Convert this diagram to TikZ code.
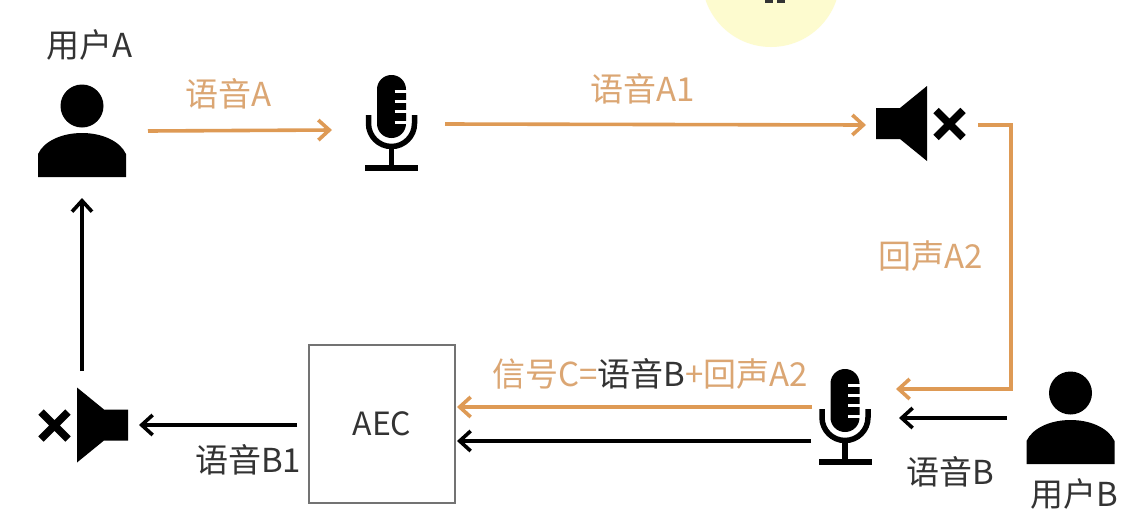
\documentclass[tikz,border=0pt]{standalone}
\usepackage{fontspec}
\setmainfont{Noto Sans CJK SC}
\usetikzlibrary{arrows.meta,calc}
\definecolor{org}{HTML}{DE9A55}
\definecolor{orgtext}{HTML}{DBA673}
\definecolor{inktext}{HTML}{333333}
\definecolor{halo}{HTML}{FDFBCF}
\tikzset{
  iconbox/.style={inner sep=0pt,outer sep=0pt,draw=none},
  flow/.style={line width=3.6pt,-{Straight Barb[length=11pt,width=20pt,line width=3.6pt]}},
  oflow/.style={flow,draw=org},
  kflow/.style={flow,draw=black},
  lbl/.style={inner sep=0pt,font=\fontsize{33}{36}\selectfont},
  olbl/.style={lbl,text=orgtext},
  klbl/.style={lbl,text=inktext},
  usericon/.pic={
    \fill[black] (0,22) circle[radius=21.5];
    \fill[black] (-44,93) -- (-44,70) .. controls (-38,57) and (-20,49) .. (0,49)
       .. controls (20,49) and (38,57) .. (44,70) -- (44,93) -- cycle;
  },
  micicon/.pic={
    \fill[black,rounded corners=14.4pt] (-14.5,0) rectangle (14.5,63);
    \foreach \yy in {16,26,36,47}{\draw[white,line width=3pt] (3,\yy) -- (16,\yy);}
    \draw[black,line width=5.5pt] (-23,40) -- (-23,48.5) arc[start angle=180,end angle=0,radius=23] -- (23,40);
    \draw[black,line width=5.5pt] (0,72) -- (0,92);
    \fill[black] (-26.5,90) rectangle (26.5,96);
  },
  speakericon/.pic={
    \fill[black] (0,-15.5) -- (24,-15.5) -- (51,-37.5) -- (51,37.5) -- (24,15.5) -- (0,15.5) -- cycle;
    \draw[black,line width=7.5pt] (60,-13) -- (87,14) (60,14) -- (87,-13);
  },
}
\begin{document}
\begin{tikzpicture}[x=1pt,y=-1pt]
\path[use as bounding box,fill=white] (0,0) rectangle (1144,528);
% top decoration, cut by the frame
\begin{scope}
  \clip (0,0) rectangle (1144,528);
  \fill[halo] (771,-22) circle[radius=69];
  \fill[inktext] (765,0) rectangle (773,3);
  \fill[inktext] (777,0) rectangle (785,3);
\end{scope}

% icons
\node[iconbox,minimum width=88pt,minimum height=93pt] (userA) at (82,130.5) {};
\node[iconbox,minimum width=53pt,minimum height=96pt] (micA) at (391.5,123) {};
\node[iconbox,minimum width=91pt,minimum height=75pt] (spkA) at (921.5,123.5) {};
\node[iconbox,minimum width=53pt,minimum height=96pt] (micB) at (845,417) {};
\node[iconbox,minimum width=88pt,minimum height=93pt] (userB) at (1070.5,417.5) {};
\node[iconbox,minimum width=91pt,minimum height=76pt] (spkB) at (82.5,425) {};
\pic at (userA.north) {usericon};
\pic at (userB.north) {usericon};
\pic at (micA.north) {micicon};
\pic at (micB.north) {micicon};
\pic at (spkA.west) {speakericon};
\pic[xscale=-1] at (spkB.east) {speakericon};

% AEC
\node[draw=black!55,line width=1.5pt,minimum width=146pt,minimum height=158pt,inner sep=0pt,
      font=\fontsize{32}{35}\selectfont,text=inktext] (aec) at (382,424) {AEC};

% connector ends
\coordinate (uAout) at (148,131);
\coordinate (mAin) at (332,130);
\coordinate (mAout) at (445,124);
\coordinate (sAin) at (866,125);
\coordinate (sAout) at (978,125);
\coordinate (corner) at (1011,125);
\coordinate (mBinO) at (896,389);
\coordinate (uBout) at (1007,418);
\coordinate (mBinK) at (899,418);
\coordinate (mBoutO) at (812,407);
\coordinate (mBoutK) at (811,441);
\coordinate (aecO) at (457,407);
\coordinate (aecK) at (457,441);
\coordinate (aecOut) at (297,425);
\coordinate (sBin) at (139,425);
\coordinate (sBout) at (82,371);
\coordinate (uAin) at (82,198);

% connectors
\draw[oflow] (uAout) -- (mAin);
\draw[oflow] (mAout) -- (sAin);
\draw[oflow] (sAout) -- (corner) -- (corner |- mBinO) -- (mBinO);
\draw[kflow] (uBout) -- (mBinK);
\draw[oflow] (mBoutO) -- (aecO);
\draw[kflow] (mBoutK) -- (aecK);
\draw[kflow] (aecOut) -- (sBin);
\draw[kflow] (sBout) -- (uAin);

% labels
\node[klbl] (tUA) at (90,45) {用户A};
\node[olbl] (tVA) at (229,94) {语音A};
\node[olbl] (tVA1) at (643,89) {语音A1};
\node[olbl] (tEA2) at (931,256) {回声A2};
\node[lbl] (tSig) at (650,374) {\textcolor{orgtext}{信号C=}\textcolor{inktext}{语音B}\textcolor{orgtext}{+回声A2}};
\node[klbl] (tVB) at (950,472) {语音B};
\node[klbl] (tUB) at (1074,494) {用户B};
\node[klbl] (tVB1) at (248,460) {语音B1};
\end{tikzpicture}
\end{document}
